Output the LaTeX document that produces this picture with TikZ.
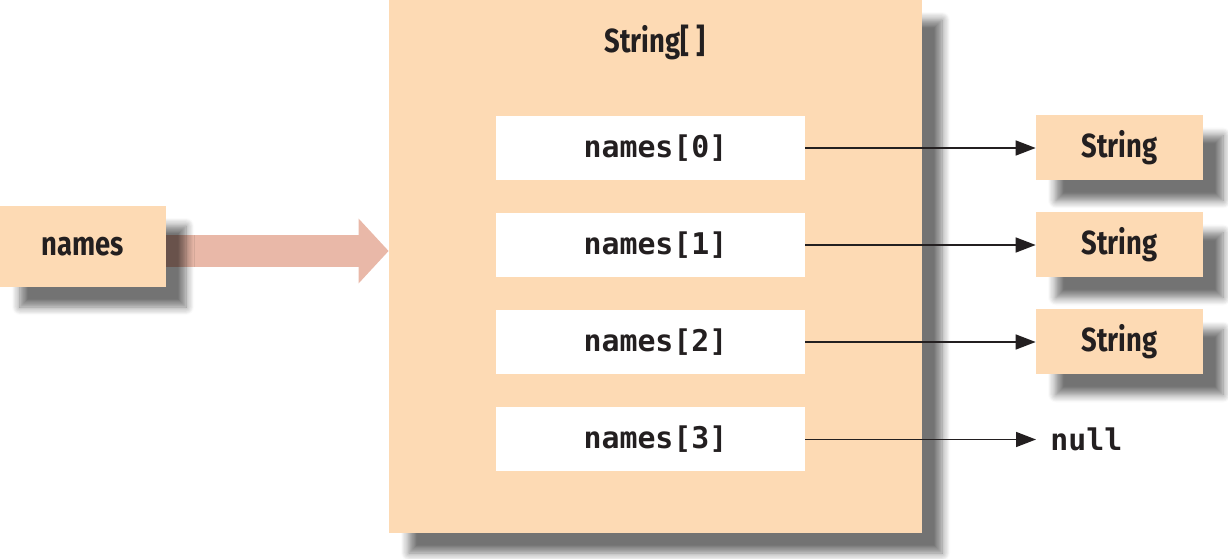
\documentclass[tikz,border=0pt]{standalone}
\usepackage{fontspec}
\newfontfamily\labelfont{Fira Sans}[FakeStretch=0.82]
\setmonofont{DejaVu Sans Mono}
\definecolor{boxpeach}{HTML}{FDDAB4}
\definecolor{arrowpink}{HTML}{E9B8A8}
\definecolor{inkdark}{HTML}{231F20}
\usetikzlibrary{arrows.meta, shadows.blur}
\tikzset{
	peachbox/.style={
			rectangle,
			fill=boxpeach,
			draw=none,
			inner sep=0pt,
			text=inkdark,
			font=\labelfont\bfseries\fontsize{19}{22}\selectfont,
			blur shadow={shadow xshift=0.4cm, shadow yshift=-0.4cm,
				shadow blur radius=0.16cm, shadow blur steps=8, shadow opacity=55}
		},
	cellbox/.style={
			rectangle,
			fill=white,
			draw=none,
			inner sep=0pt,
			minimum width=6.18cm,
			minimum height=1.28cm,
			text=inkdark,
			font=\ttfamily\bfseries\fontsize{17}{20}\selectfont
		},
	refline/.style={
			draw=inkdark,
			line width=0.9pt,
			-{Triangle[length=0.4cm, width=0.3cm]}
		}
}
\begin{document}
\begin{tikzpicture}
\useasboundingbox (0,0) rectangle (24.56,-11.18);

% array object
\node[peachbox, minimum width=10.66cm, minimum height=10.66cm] (arr) at (13.11,-5.33) {};
\node[text=inkdark, font=\labelfont\bfseries\fontsize{19}{22}\selectfont] (title) at (13.1,-0.84) {String[\hspace{0.14cm}]};

\node[cellbox] (c0) at (13.01,-2.96) {\hspace{0.2cm}names[0]};
\node[cellbox] (c1) at (13.01,-4.90) {\hspace{0.2cm}names[1]};
\node[cellbox] (c2) at (13.01,-6.84) {\hspace{0.2cm}names[2]};
\node[cellbox] (c3) at (13.01,-8.79) {\hspace{0.2cm}names[3]};

% variable and its reference
\draw[arrowpink, line width=0.64cm, -{Triangle[length=0.6cm, width=1.26cm]}] (1.66,-5.02) coordinate (vstart) -- (vstart -| arr.west);
\node[peachbox, minimum width=3.32cm, minimum height=1.62cm] (names) at (1.66,-4.93) {names};

% element objects
\node[peachbox, minimum width=3.34cm, minimum height=1.3cm] (s0) at (22.39,-2.96) {String};
\node[peachbox, minimum width=3.34cm, minimum height=1.3cm] (s1) at (22.39,-4.90) {String};
\node[peachbox, minimum width=3.34cm, minimum height=1.3cm] (s2) at (22.39,-6.84) {String};
\node[anchor=west, inner sep=0.28cm, text=inkdark, font=\ttfamily\bfseries\fontsize{17}{20}\selectfont] (nl) at (20.72,-8.79) {null};

\draw[refline] (c0) -- (s0);
\draw[refline] (c1) -- (s1);
\draw[refline] (c2) -- (s2);
\draw[refline] (c3) -- (nl);

\end{tikzpicture}
\end{document}
